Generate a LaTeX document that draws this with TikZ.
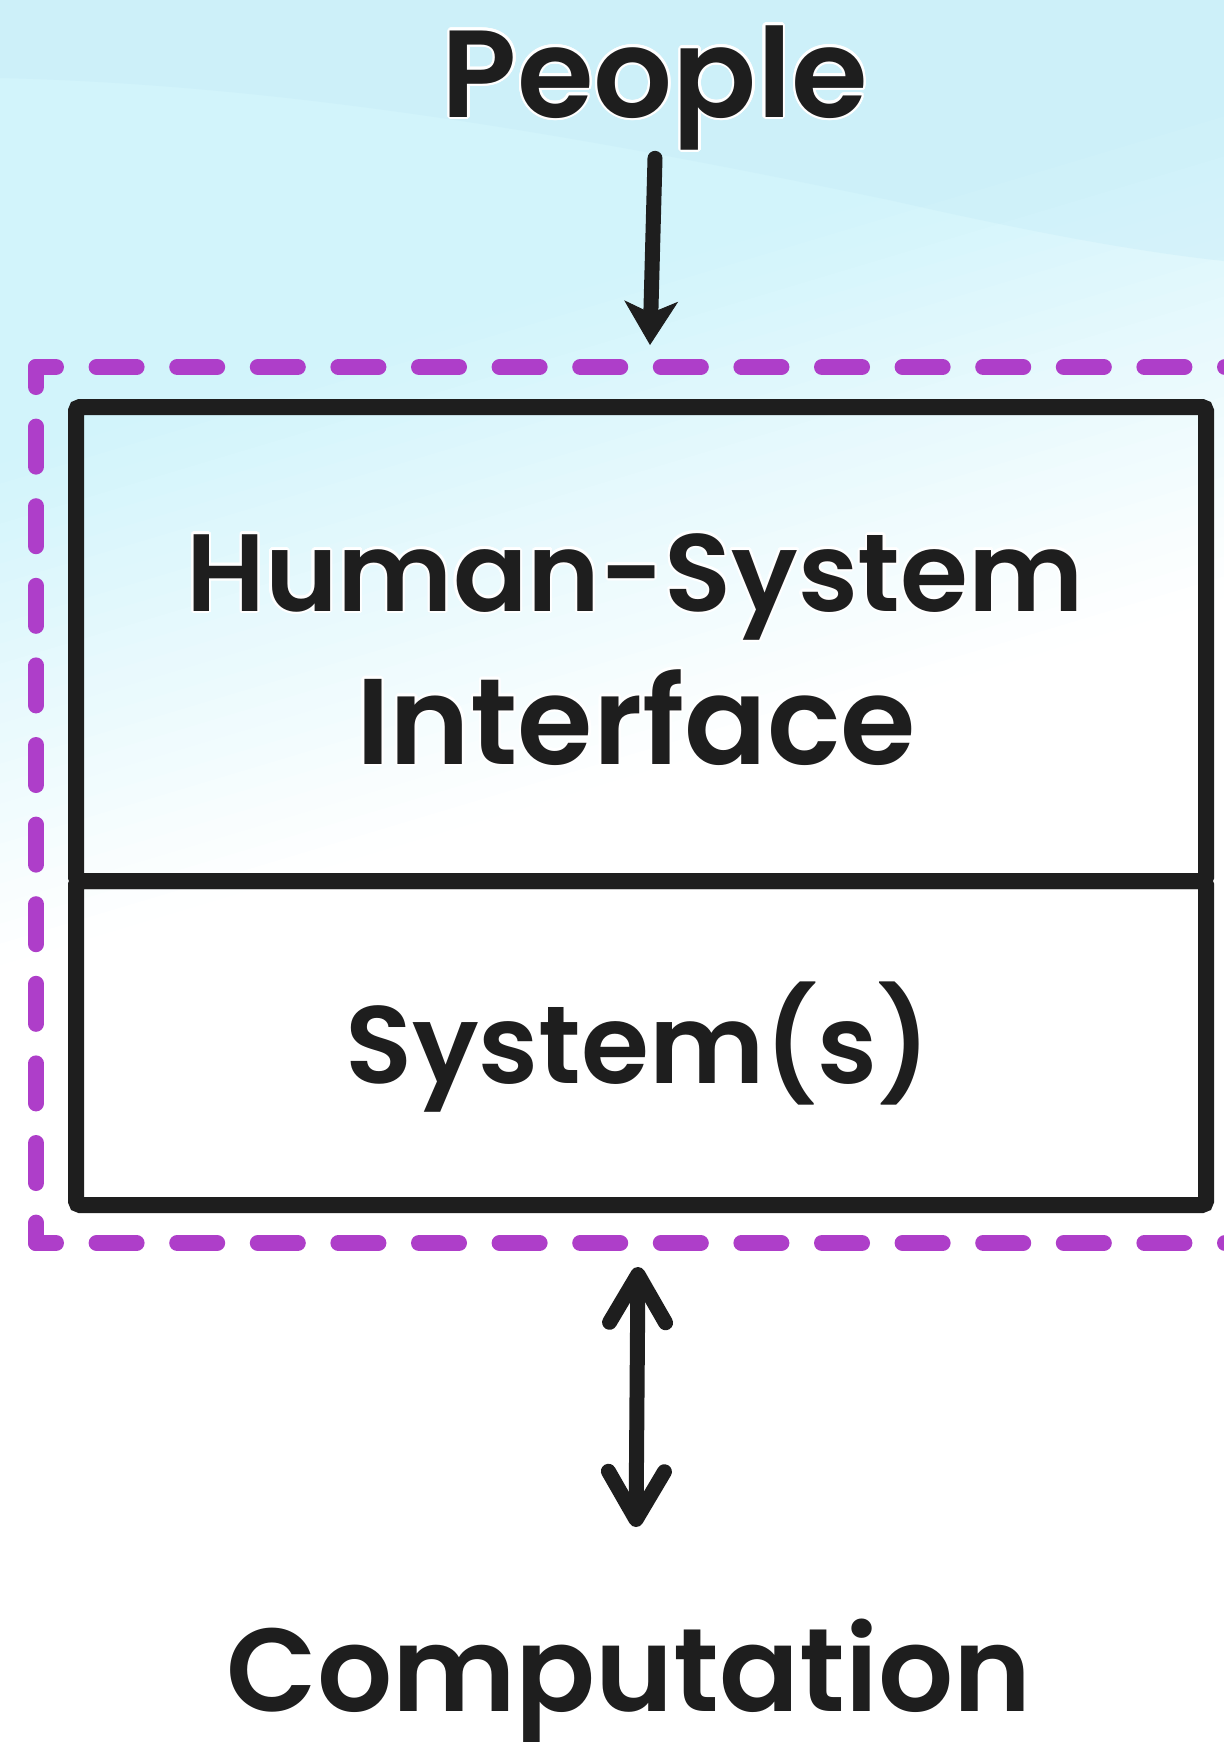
\documentclass[tikz,border=0pt]{standalone}
\usepackage{fontspec}
\setmainfont{Poppins}[BoldFont={Poppins SemiBold}]
\usepackage{contour}
\contourlength{1.1pt}
\contournumber{24}
\usetikzlibrary{arrows.meta}

\definecolor{ink}{HTML}{1E1E1E}
\definecolor{grape}{HTML}{AE3EC9}
\definecolor{skytop}{HTML}{D2F4FB}
\definecolor{skywave}{HTML}{C4EBF7}

\newcommand{\labelsize}[1]{\fontsize{#1}{#1}\selectfont\bfseries}

\begin{document}
\begin{tikzpicture}[x=0.5pt,y=-0.5pt,
  label/.style={text=ink, inner sep=0pt, anchor=base},
  boxpart/.style={draw=ink, line width=8pt, rounded corners=2pt,
                  minimum width=565pt, inner sep=0pt},
  frameside/.style={draw=grape, line width=8pt, line cap=round,
                    dash phase=10pt},
  flow/.style={draw=ink, line width=7.5pt, line cap=round, line join=round},
]
\useasboundingbox (0,0) rectangle (1224,1742);

% sky background: diagonal fade from pale cyan to white
\fill[white] (0,0) rectangle (1224,1742);
\foreach \c in {-200,-180,...,760} {
  \pgfmathsetmacro\p{max(0,min(100,(770-\c)/5))}
  \fill[skytop!\p!white]
    (-10,{\c+186.6}) -- (1234,{\c-186.6}) -- (1234,{\c-186.6+21})
    -- (-10,{\c+186.6+21}) -- cycle;
}
% soft wave across the top
\fill[skywave, opacity=0.35] (0,0) -- (0,78)
  .. controls (300,85) and (600,140) .. (889,200)
  .. controls (1000,225) and (1120,250) .. (1224,261)
  -- (1224,0) -- cycle;

% dashed boundary (each side starts and ends on a half dash)
\draw[frameside, dash pattern=on 20pt off 19.8pt] (36,367) -- (36,1243);
\draw[frameside, dash pattern=on 20pt off 20.3pt] (36,367) -- (1260,367);
\draw[frameside, dash pattern=on 20pt off 20.3pt] (36,1243) -- (1260,1243);

% stacked compartments
\node[boxpart, minimum height=237pt] (hsi) at (641,644) {};
\node[boxpart, minimum height=162pt] (sys) at (641,1043) {};

% labels
\node[label, font=\labelsize{62}] (people) at (655,117) {\contour{white}{People}};
\node[label, font=\labelsize{55}] (hsiA) at (635,611) {\contour{white}{Human-System}};
\node[label, font=\labelsize{61}] (hsiB) at (636,764) {\contour{white}{Interface}};
\node[label, font=\labelsize{55}] (sysT) at (638,1083) {\contour{white}{System(s)}};
\node[label, font=\labelsize{59}] (comp) at (629,1711) {\contour{white}{Computation}};

% connectors
\coordinate (inTip) at (650,345);
\coordinate (ioTop) at (638,1267);
\coordinate (ioBot) at (636,1527);
\draw[flow, -{Stealth[length=22pt,width=27pt,inset=6pt,line width=0.5pt,fill=ink,color=ink]}]
  ([yshift=-3pt]people.south) -- (inTip);
\draw[flow, {Straight Barb[length=24pt,width=28pt,round]}-{Straight Barb[length=24pt,width=28pt,round]}]
  (ioTop) -- (ioBot);
\end{tikzpicture}
\end{document}
